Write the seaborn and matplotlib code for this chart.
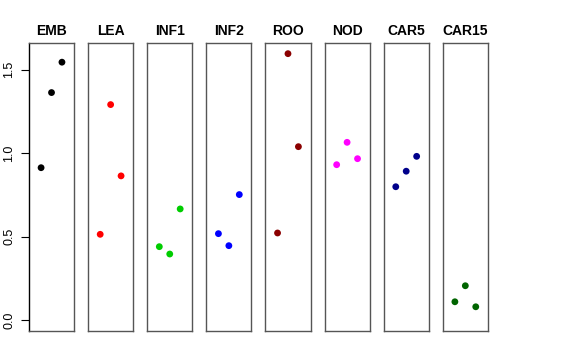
import pandas as pd
import matplotlib
matplotlib.use("Agg")
import matplotlib.pyplot as plt
import seaborn as sns

tissues = ["EMB", "LEA", "INF1", "INF2", "ROO", "NOD", "CAR5", "CAR15"]
colors = ["#000000", "#FF0000", "#00CD00", "#0000FF", "#8B0000", "#FF00FF", "#00008B", "#006400"]
replicate = [1, 2, 3]
values = {
    "EMB": [0.914, 1.364, 1.546],
    "LEA": [0.515, 1.292, 0.865],
    "INF1": [0.441, 0.397, 0.667],
    "INF2": [0.519, 0.447, 0.753],
    "ROO": [0.523, 1.597, 1.040],
    "NOD": [0.932, 1.066, 0.968],
    "CAR5": [0.800, 0.893, 0.982],
    "CAR15": [0.111, 0.207, 0.081],
}

rows = []
for t in tissues:
    for r, v in zip(replicate, values[t]):
        rows.append({"tissue": t, "rep": r, "value": v})
df = pd.DataFrame(rows)

sns.set_style("white")
plt.rcParams["font.family"] = ["Liberation Sans", "DejaVu Sans"]
plt.rcParams["text.color"] = "black"
plt.rcParams["ytick.color"] = "black"

fig, axes = plt.subplots(1, len(tissues), figsize=(5.76, 3.6), dpi=100, sharey=True)
fig.subplots_adjust(left=0.0503, right=0.847, top=0.8806, bottom=0.0806, wspace=0.311)

for ax, t, c in zip(axes, tissues, colors):
    sub = df[df["tissue"] == t]
    sns.scatterplot(data=sub, x="rep", y="value", color=c, s=24, edgecolor="none", ax=ax, legend=False)
    ax.set_xlim(-0.16, 4.16)
    ax.set_ylim(-0.064, 1.661)
    ax.set_xticks([])
    ax.set_xlabel("")
    ax.set_ylabel("")
    ax.set_title(t, fontsize=10, fontweight="bold", pad=6, color="black")
    for sp in ax.spines.values():
        sp.set_visible(True)
        sp.set_color("#555555")
        sp.set_linewidth(1.0)
    ax.tick_params(axis="y", left=False, labelleft=False)

ax0 = axes[0]
ax0.set_yticks([0.0, 0.5, 1.0, 1.5])
ax0.set_yticklabels(["0.0", "0.5", "1.0", "1.5"], rotation=90, va="center")
ax0.tick_params(axis="y", left=True, labelleft=True, length=6, width=0.8,
                color="black", labelcolor="black", labelsize=9, pad=4)
ax0.spines["left"].set_color("black")

fig.savefig("out.png", dpi=100)
